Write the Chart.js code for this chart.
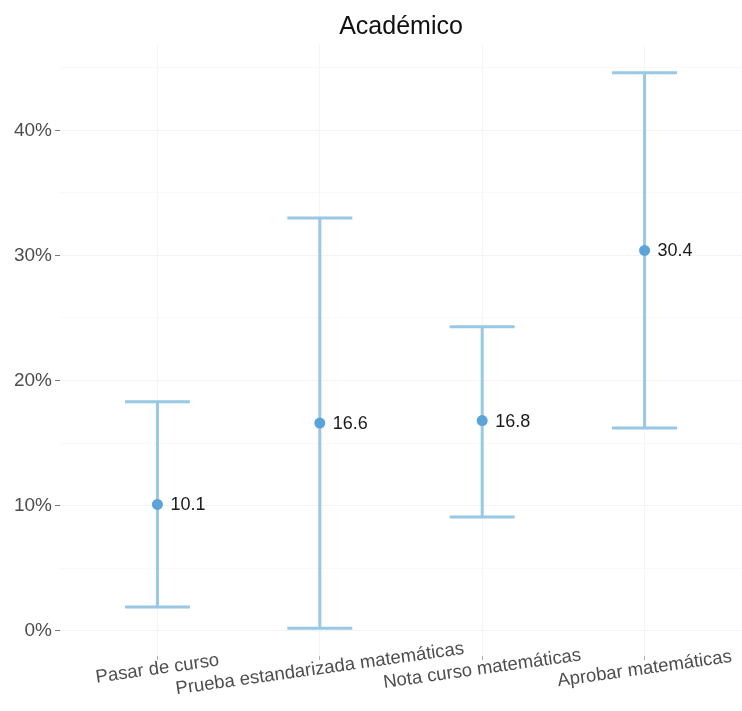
<!DOCTYPE html>
<html>
<head>
<meta charset="utf-8">
<script src="https://cdn.jsdelivr.net/npm/chart.js@4"></script>
<style>
  html, body { margin: 0; padding: 0; background: #ffffff; overflow: hidden; }
  #wrap { width: 742px; height: 711px; position: relative; }
</style>
</head>
<body>
<div id="wrap"><canvas id="c"></canvas></div>
<script>
const title = 'Académico';
const categories = ['Pasar de curso', 'Prueba estandarizada matemáticas', 'Nota curso matemáticas', 'Aprobar matemáticas'];
const estimates = [10.1, 16.6, 16.8, 30.4];
const lower = [1.9, 0.2, 9.1, 16.2];
const upper = [18.3, 33.0, 24.3, 44.6];
const yTicks = [0, 5, 10, 15, 20, 25, 30, 35, 40, 45];

const FONT = "'Liberation Sans', Arial, sans-serif";
const POINT_COLOR = '#5ba3d9';
const BAR_COLOR = '#98c8e4';

const lo = Math.min(...lower), hi = Math.max(...upper);
const pad = (hi - lo) * 0.05;

const errorBars = {
  id: 'errorBars',
  beforeDatasetsDraw(chart) {
    const {ctx, scales: {x, y}} = chart;
    ctx.save();
    ctx.strokeStyle = BAR_COLOR;
    ctx.lineWidth = 3;
    ctx.lineCap = 'butt';
    categories.forEach((c, i) => {
      const px = x.getPixelForValue(i);
      const yl = y.getPixelForValue(lower[i]);
      const yu = y.getPixelForValue(upper[i]);
      const xl = x.getPixelForValue(i - 0.2);
      const xr = x.getPixelForValue(i + 0.2);
      ctx.beginPath();
      ctx.moveTo(px, yl); ctx.lineTo(px, yu);
      ctx.moveTo(xl, yl); ctx.lineTo(xr, yl);
      ctx.moveTo(xl, yu); ctx.lineTo(xr, yu);
      ctx.stroke();
    });
    ctx.restore();
  },
  afterDatasetsDraw(chart) {
    const {ctx, scales: {x, y}} = chart;
    ctx.save();
    ctx.fillStyle = '#1a1a1a';
    ctx.font = '18px ' + FONT;
    ctx.textAlign = 'left';
    ctx.textBaseline = 'middle';
    estimates.forEach((v, i) => {
      ctx.fillText(v.toFixed(1), x.getPixelForValue(i) + 13, y.getPixelForValue(v) + 1);
    });
    ctx.restore();
  },
  afterDraw(chart) {
    const {ctx, chartArea, scales: {x}} = chart;
    ctx.save();
    ctx.fillStyle = '#111111';
    ctx.font = '25px ' + FONT;
    ctx.textAlign = 'center';
    ctx.textBaseline = 'middle';
    ctx.fillText(title, (chartArea.left + chartArea.right) / 2, 27);
    ctx.fillStyle = '#4d4d4d';
    ctx.font = '18.5px ' + FONT;
    categories.forEach((c, i) => {
      ctx.save();
      ctx.translate(x.getPixelForValue(i), 669);
      ctx.rotate(-8 * Math.PI / 180);
      ctx.fillText(c, 0, 0);
      ctx.restore();
    });
    ctx.restore();
  }
};

new Chart(document.getElementById('c'), {
  type: 'scatter',
  data: {
    datasets: [{
      data: estimates.map((v, i) => ({x: i, y: v})),
      backgroundColor: POINT_COLOR,
      borderColor: POINT_COLOR,
      pointRadius: 5.5,
      pointBorderWidth: 0
    }]
  },
  options: {
    responsive: true,
    maintainAspectRatio: false,
    animation: false,
    layout: { autoPadding: false, padding: { top: 45, right: 0, left: 0, bottom: 0 } },
    plugins: {
      legend: { display: false },
      tooltip: { enabled: false },
      title: { display: false }
    },
    scales: {
      x: {
        type: 'linear',
        min: -0.6,
        max: 3.6,
        afterBuildTicks: s => { s.ticks = categories.map((c, i) => ({value: i})); },
        afterFit: s => { s.height = 55; },
        border: { display: false },
        grid: { color: '#f5f5f5', lineWidth: 1, tickLength: 4, tickColor: '#b0b0b0' },
        ticks: { callback: () => '', padding: 0, maxRotation: 0 }
      },
      y: {
        type: 'linear',
        min: lo - pad,
        max: hi + pad,
        afterBuildTicks: s => { s.ticks = yTicks.map(v => ({value: v})); },
        afterFit: s => { s.width = 60; },
        border: { display: false },
        grid: {
          color: ctx => (ctx.tick && ctx.tick.value % 10 === 0) ? '#f3f3f3' : '#f9f9f9',
          lineWidth: 1,
          tickLength: 5,
          tickColor: ctx => (ctx.tick && ctx.tick.value % 10 === 0) ? '#777777' : 'rgba(0,0,0,0)'
        },
        ticks: {
          color: '#4d4d4d',
          font: { family: FONT, size: 19 },
          padding: 3,
          callback: v => (v % 10 === 0) ? v + '%' : ''
        }
      }
    }
  },
  plugins: [errorBars]
});
</script>
</body>
</html>
